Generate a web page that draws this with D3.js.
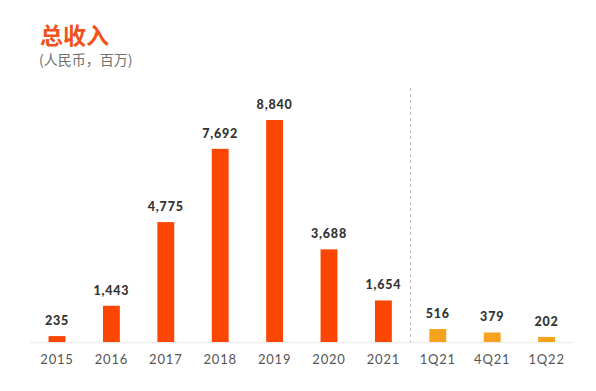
<!DOCTYPE html>
<html>
<head>
<meta charset="utf-8">
<script src="https://cdn.jsdelivr.net/npm/d3@7"></script>
<style>
  body { margin: 0; background: #fff; }
  svg { display: block; }
</style>
</head>
<body>
<div id="chart"></div>
<script>
// datos
const categories = ["2015", "2016", "2017", "2018", "2019", "2020", "2021", "1Q21", "4Q21", "1Q22"];
const revenue = [235, 1443, 4775, 7692, 8840, 3688, 1654, 516, 379, 202];
const quarterly = [false, false, false, false, false, false, false, true, true, true];

const W = 596, H = 391;
const baseY = 342;

const svg = d3.select("#chart").append("svg")
  .attr("width", W).attr("height", H);

const x = d3.scaleBand()
  .domain(categories)
  .range([29.8, 573.8])
  .paddingInner(0.69)
  .paddingOuter(0.345);

const y = d3.scaleLinear()
  .domain([0, 8840])
  .range([baseY, 120]);

// titulo
svg.append("text")
  .attr("x", 40).attr("y", 44)
  .style("font-family", "'Noto Sans CJK SC', sans-serif")
  .style("font-size", "23px")
  .style("font-weight", "bold")
  .style("fill", "#f0521c")
  .text("总收入");

svg.append("text")
  .attr("x", 39).attr("y", 65)
  .style("font-family", "'Noto Sans CJK SC', sans-serif")
  .style("font-size", "14px")
  .style("fill", "#707070")
  .text("(人民币，百万)");

// linea base
svg.append("line")
  .attr("x1", 30).attr("x2", 573)
  .attr("y1", baseY + 0.5).attr("y2", baseY + 0.5)
  .style("stroke", "#eeeeee")
  .style("stroke-width", 1.5);

// separador anual / trimestral
const sepX = (x("2021") + x.bandwidth() + x("1Q21")) / 2;
svg.append("line")
  .attr("x1", sepX).attr("x2", sepX)
  .attr("y1", 88).attr("y2", baseY)
  .style("stroke", "#bbbbbb")
  .style("stroke-width", 1)
  .style("stroke-dasharray", "3,3");

const data = categories.map((c, i) => ({ cat: c, value: revenue[i], q: quarterly[i] }));

svg.selectAll("rect.bar")
  .data(data)
  .enter()
  .append("rect")
  .attr("class", "bar")
  .attr("x", d => x(d.cat))
  .attr("width", x.bandwidth())
  .attr("y", d => y(d.value))
  .attr("height", d => baseY - y(d.value))
  .style("fill", d => d.q ? "#f6a21c" : "#fb4503");

svg.selectAll("text.val")
  .data(data)
  .enter()
  .append("text")
  .attr("class", "val")
  .attr("x", d => x(d.cat) + x.bandwidth() / 2)
  .attr("y", d => y(d.value) - 11)
  .attr("text-anchor", "middle")
  .style("font-family", "Lato, 'Open Sans', sans-serif")
  .style("font-size", "12.5px")
  .style("font-weight", "900")
  .style("letter-spacing", "0.8px")
  .style("fill", "#333")
  .text(d => d3.format(",")(d.value));

// eje x
const axis = svg.append("g")
  .attr("transform", "translate(0," + baseY + ")")
  .call(d3.axisBottom(x).tickSize(0).tickPadding(13));
axis.select(".domain").remove();
axis.selectAll("text")
  .style("font-family", "Lato, 'Open Sans', sans-serif")
  .style("font-size", "13px")
  .style("letter-spacing", "0.8px")
  .style("fill", "#555");
</script>
</body>
</html>
